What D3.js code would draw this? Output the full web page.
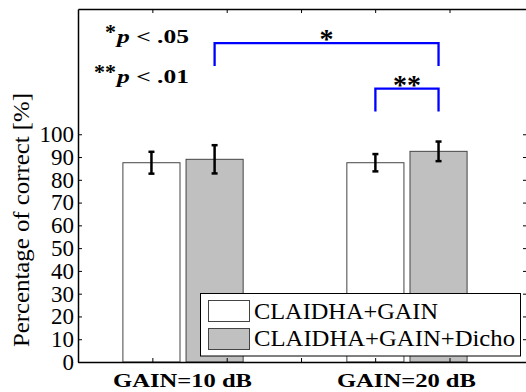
<!DOCTYPE html>
<html>
<head>
<meta charset="utf-8">
<script src="https://cdn.jsdelivr.net/npm/d3@7"></script>
<style>
  body { margin: 0; background: #fff; }
  svg text { font-family: 'Liberation Serif' !important; }
</style>
</head>
<body>
<script>
// data
const groups = ["GAIN=10 dB", "GAIN=20 dB"];
const groupPos = [1, 2];
const series = ["CLAIDHA+GAIN", "CLAIDHA+GAIN+Dicho"];
const meanGain = [87.5, 87.5];
const meanDicho = [89, 92.5];
const errGain = [4.8, 3.8];
const errDicho = [6.2, 4.3];
const yTicks = [0, 10, 20, 30, 40, 50, 60, 70, 80, 90, 100];
const xTicks = [0.863, 1.195, 1.527, 1.858, 2.19];
// significance brackets: [from, to, top, bottom, label]
const brackets = [
  [1.141, 2.141, 140, 130, "*"],
  [1.859, 2.141, 120, 110, "**"]
];
const pLegend = [["*", "p < .05"], ["**", "p < .01"]];

const W = 526, H = 392;
const SERIF = "Liberation Serif";
const svg = d3.select("body").append("svg")
  .attr("width", W).attr("height", H)
  .attr("font-family", SERIF)
  .style("font-family", `'${SERIF}'`);

const x = d3.scaleLinear().domain([0.531, 2.536]).range([78, 527]);
const y = d3.scaleLinear().domain([0, 155]).range([362, 9]);

const off = 0.141, bw = 0.255;
const fills = ["#ffffff", "#c0c0c0"];
const means = [meanGain, meanDicho];
const errs = [errGain, errDicho];

// bars
series.forEach((s, si) => {
  const g = svg.append("g");
  g.selectAll("rect")
    .data(groupPos)
    .enter()
    .append("rect")
    .attr("x", (d) => x(d + (si === 0 ? -off : off) - bw / 2))
    .attr("y", (d, i) => y(means[si][i]))
    .attr("width", x(bw) - x(0))
    .attr("height", (d, i) => y(0) - y(means[si][i]))
    .attr("fill", fills[si])
    .attr("stroke", "#444")
    .attr("stroke-width", 1);

  // error bars
  groupPos.forEach((d, i) => {
    const cx = x(d + (si === 0 ? -off : off));
    const hi = y(means[si][i] + errs[si][i]);
    const lo = y(means[si][i] - errs[si][i]);
    g.append("line").attr("x1", cx).attr("x2", cx).attr("y1", hi).attr("y2", lo)
      .attr("stroke", "#000").attr("stroke-width", 2.5);
    [hi, lo].forEach((yy) => {
      g.append("line").attr("x1", cx - 3).attr("x2", cx + 3).attr("y1", yy).attr("y2", yy)
        .attr("stroke", "#000").attr("stroke-width", 2.5);
    });
  });
});

// axes (box with inward ticks)
const axisStyle = (g) => {
  g.attr("font-family", SERIF);
  g.select(".domain").attr("stroke", "#000").attr("stroke-width", 1.5);
  g.selectAll(".tick line").attr("stroke", "#000");
};
svg.append("g").attr("transform", "translate(78,0)")
  .call(d3.axisLeft(y).tickValues(yTicks).tickSize(-4).tickPadding(4).tickSizeOuter(0))
  .call(axisStyle)
  .call((g) => g.selectAll("text")
    .attr("font-family", SERIF).style("font-size", "23px").attr("fill", "#000"));
svg.append("g").attr("transform", "translate(527,0)")
  .call(d3.axisRight(y).tickValues(yTicks).tickSize(-4).tickFormat("").tickSizeOuter(0))
  .call(axisStyle);
svg.append("g").attr("transform", "translate(0,9)")
  .call(d3.axisTop(x).tickValues(xTicks).tickSize(-4).tickFormat("").tickSizeOuter(0))
  .call(axisStyle);
svg.append("g").attr("transform", "translate(0,362)")
  .call(d3.axisBottom(x).tickValues(xTicks).tickSize(-4).tickFormat("").tickSizeOuter(0))
  .call(axisStyle);

// group labels
svg.selectAll(".glabel")
  .data(groups)
  .enter()
  .append("text")
  .attr("x", (d, i) => x(groupPos[i]) - 70)
  .attr("y", 387)
  .attr("font-family", SERIF)
  .style("font-size", "19px")
  .style("font-weight", "bold")
  .attr("textLength", 139)
  .attr("lengthAdjust", "spacingAndGlyphs")
  .text((d) => d);

// y label
svg.append("text")
  .attr("transform", "translate(29,220) rotate(-90)")
  .attr("text-anchor", "middle")
  .attr("font-family", SERIF)
  .style("font-size", "24px")
  .attr("textLength", 254)
  .attr("lengthAdjust", "spacingAndGlyphs")
  .text("Percentage of correct [%]");

// brackets
brackets.forEach((b) => {
  svg.append("path")
    .attr("d", `M${x(b[0])},${y(b[3])}V${y(b[2])}H${x(b[1])}V${y(b[3])}`)
    .attr("fill", "none")
    .attr("stroke", "#0000ff")
    .attr("stroke-width", 2.3);
  svg.append("text")
    .attr("x", (x(b[0]) + x(b[1])) / 2)
    .attr("y", y(b[2]) + 5)
    .attr("text-anchor", "middle")
    .attr("font-family", SERIF)
    .style("font-size", "28px")
    .style("font-weight", "bold")
    .text(b[4]);
});

// p-value key
pLegend.forEach((p, i) => {
  const base = 43 + i * 40;
  svg.append("text")
    .attr("x", 116).attr("y", base - 4)
    .attr("text-anchor", "end")
    .attr("font-family", SERIF)
    .style("font-size", "22px").style("font-weight", "bold")
    .text(p[0]);
  const t = svg.append("text")
    .attr("x", 117).attr("y", base)
    .attr("font-family", SERIF)
    .style("font-size", "18px").style("font-weight", "bold")
    .attr("textLength", 72).attr("lengthAdjust", "spacingAndGlyphs");
  t.append("tspan").style("font-style", "italic").text("p");
  t.append("tspan").text(p[1].slice(1));
});

// legend
const lg = svg.append("g");
lg.append("rect").attr("x", 200.5).attr("y", 293.5).attr("width", 320).attr("height", 62.5)
  .attr("fill", "#fff").attr("stroke", "#000").attr("stroke-width", 1);
series.forEach((s, i) => {
  lg.append("rect").attr("x", 208.5).attr("y", 300.5 + i * 28).attr("width", 41).attr("height", 21)
    .attr("fill", fills[i]).attr("stroke", "#444");
  lg.append("text").attr("x", 254).attr("y", 319 + i * 27)
    .attr("font-family", SERIF)
    .style("font-size", "24px")
    .attr("textLength", i === 0 ? 184 : 261)
    .attr("lengthAdjust", "spacingAndGlyphs")
    .text(s);
});
</script>
</body>
</html>
